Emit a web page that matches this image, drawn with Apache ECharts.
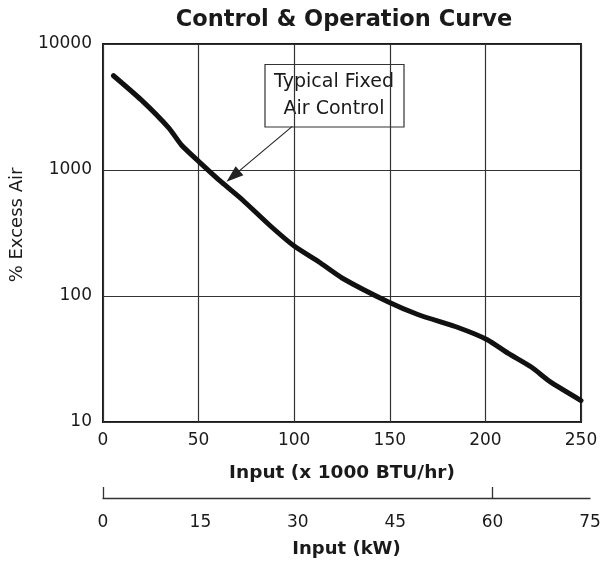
<!DOCTYPE html>
<html>
<head>
<meta charset="utf-8">
<title>Control & Operation Curve</title>
<script src="https://cdn.jsdelivr.net/npm/echarts@6/dist/echarts.min.js"></script>
<style>
    html, body { margin: 0; padding: 0; background: #fff; }
    #chart { width: 602px; height: 563px; }
</style>
</head>
<body>
<div id="chart"></div>
<script>
// values (input in 1000 BTU/hr, excess air in %)
var inputBtu = [5.5, 20, 34.5, 41, 51, 62, 73, 87, 100, 113, 125, 149, 165, 186, 201, 212, 224, 234, 250];
var excessAir = [5600, 3600, 2150, 1580, 1135, 800, 578, 366, 249, 186, 139, 90, 71, 56, 45, 35, 27.3, 20.8, 14.8];

// second scale under the chart (kW)
var kwLabels = [0, 15, 30, 45, 60, 75];
var kwTicks = [0, 60];

// callout arrow, in data units: [input, excess air]  (end = middle of the arrow head)
var calloutFrom = [99, 2220];
var calloutTo = [68, 893];
var calloutText = "Typical Fixed\nAir Control";

var FONT = "DejaVu Sans";
var INK = "#1a1a1a";

var chart = echarts.init(document.getElementById("chart"), null, {renderer: "canvas"});

var points = [];
for (var i = 0; i < inputBtu.length; i++) {
    points.push([inputBtu[i], excessAir[i]]);
}

var option = {
    backgroundColor: "#fff",
    animation: false,
    title: {
        text: "Control & Operation Curve",
        left: 344,
        top: 9,
        padding: 0,
        textAlign: "center",
        textStyle: {fontFamily: FONT, fontSize: 22.5, fontWeight: "bold", color: INK}
    },
    grid: [
        {left: 103, top: 44, width: 478, height: 378, show: true, borderColor: INK, borderWidth: 2,
            backgroundColor: "transparent", containLabel: false, outerBoundsMode: "none"},
        {left: 103, top: 497, width: 487, height: 1, containLabel: false, outerBoundsMode: "none"}
    ],
    xAxis: [
        {
            gridIndex: 0, type: "value", min: 0, max: 250, interval: 50,
            name: "Input (x 1000 BTU/hr)", nameLocation: "middle", nameGap: 42, nameMoveOverlap: false,
            nameTextStyle: {fontFamily: FONT, fontSize: 18.5, fontWeight: "bold", color: INK},
            axisLine: {show: false},
            axisTick: {show: false},
            axisLabel: {fontFamily: FONT, fontSize: 17, color: INK, margin: 10},
            splitLine: {show: true, lineStyle: {color: "#333", width: 1.2}}
        },
        {
            gridIndex: 1, type: "value", min: 0, max: 75, position: "bottom",
            name: "Input (kW)", nameLocation: "middle", nameGap: 42, nameMoveOverlap: false,
            nameTextStyle: {fontFamily: FONT, fontSize: 18, fontWeight: "bold", color: INK},
            axisLine: {show: true, onZero: false, lineStyle: {color: "#333", width: 1.3}},
            axisTick: {show: true, inside: true, length: 11, customValues: kwTicks,
                lineStyle: {color: "#333", width: 1.3}},
            axisLabel: {fontFamily: FONT, fontSize: 17, color: INK, margin: 16, customValues: kwLabels},
            splitLine: {show: false}
        }
    ],
    yAxis: [
        {
            gridIndex: 0, type: "log", logBase: 10, min: 10, max: 10000,
            name: "% Excess Air", nameLocation: "middle", nameGap: 77, nameRotate: 90, nameMoveOverlap: false,
            nameTextStyle: {fontFamily: FONT, fontSize: 18, color: INK, padding: [0, 0, 0, 16]},
            axisLine: {show: false},
            axisTick: {show: false},
            axisLabel: {
                fontFamily: FONT, fontSize: 17, color: INK, margin: 11,
                formatter: function (v) { return String(Math.round(v)); }
            },
            splitLine: {show: true, lineStyle: {color: "#333", width: 1.2}}
        },
        {gridIndex: 1, type: "value", min: 0, max: 1, show: false}
    ],
    series: [
        {
            name: "Typical Fixed Air Control",
            type: "line",
            xAxisIndex: 0,
            yAxisIndex: 0,
            data: points,
            smooth: 0.2,
            showSymbol: false,
            symbol: "none",
            lineStyle: {color: "#111", width: 5, cap: "round", join: "round"},
            z: 5,
            markLine: {
                silent: true,
                symbol: ["none", "triangle"],
                symbolSize: [12, 17],
                label: {show: false},
                itemStyle: {color: "#111"},
                lineStyle: {color: "#222", width: 1.1, type: "solid"},
                data: [[{coord: calloutFrom}, {coord: calloutTo}]]
            }
        }
    ],
    graphic: [
        {
            type: "group",
            z: 100,
            children: [
                {type: "rect", shape: {x: 265, y: 64.5, width: 139, height: 62.5},
                    style: {fill: "#fff", stroke: "#333", lineWidth: 1.2}},
                {type: "text", x: 334, y: 95.5,
                    style: {text: calloutText, fontFamily: FONT, fontSize: 19, lineHeight: 27,
                        fill: INK, align: "center", verticalAlign: "middle"}}
            ]
        }
    ]
};

chart.setOption(option);
</script>
</body>
</html>
